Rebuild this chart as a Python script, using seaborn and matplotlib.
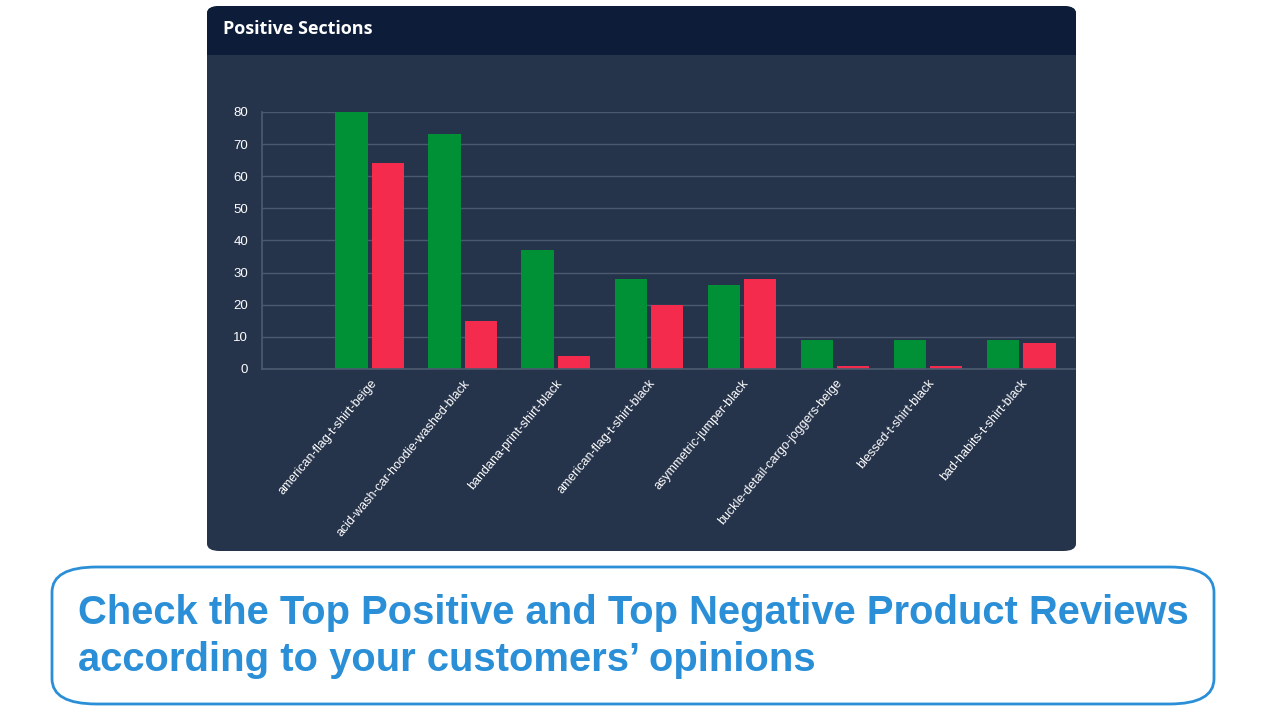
import pandas as pd
import matplotlib.pyplot as plt
from matplotlib.patches import FancyBboxPatch
import seaborn as sns

# data
products = ["american-flag-t-shirt-beige", "acid-wash-car-hoodie-washed-black",
            "bandana-print-shirt-black", "american-flag-t-shirt-black",
            "asymmetric-jumper-black", "buckle-detail-cargo-joggers-beige",
            "blessed-t-shirt-black", "bad-habits-t-shirt-black"]
positive = [80, 73, 37, 28, 26, 9, 9, 9]
negative = [64, 15, 4, 20, 28, 1, 1, 8]
y_ticks = [0, 10, 20, 30, 40, 50, 60, 70, 80]

GREEN = "#009136"
RED = "#f42b4c"
HEADER = "#0d1c38"
BODY = "#25334b"
BLUE = "#2b8fd8"


def build_frame():
    df_pos = pd.DataFrame({"product": products, "kind": "positive", "value": positive})
    df_neg = pd.DataFrame({"product": products, "kind": "negative", "value": negative})
    return pd.concat([df_pos, df_neg], ignore_index=True)


df = build_frame()

sns.set_theme(style="dark")
plt.rcParams["font.family"] = ["Liberation Sans", "DejaVu Sans"]

fig = plt.figure(figsize=(12.8, 7.2), dpi=100, facecolor="white")
W, H = 1280, 720


def px_box(x0, y0, x1, y1, **kw):
    # rectangle given in pixel coords (top-left origin)
    return FancyBboxPatch((x0 / W, 1 - y1 / H), (x1 - x0) / W, (y1 - y0) / H,
                          transform=fig.transFigure, **kw)


# dark panel with header strip
fig.patches.append(px_box(207, 6, 1076, 551, boxstyle="round,pad=0,rounding_size=0.01",
                          facecolor=BODY, edgecolor="none", zorder=-2))
fig.patches.append(px_box(207, 6, 1076, 55, boxstyle="round,pad=0,rounding_size=0.01",
                          facecolor=HEADER, edgecolor="none", zorder=-1))
fig.patches.append(px_box(207, 35, 1076, 55, boxstyle="square,pad=0",
                          facecolor=HEADER, edgecolor="none", zorder=-1))
fig.text(223 / W, 1 - 29 / H, "Positive Sections", color="white", fontsize=13,
         fontweight="bold", family=["Open Sans", "DejaVu Sans"], va="center", ha="left")

# chart axes
ax = fig.add_axes([262 / W, 1 - 369 / H, (1075 - 262) / W, (369 - 112) / H])
ax.set_zorder(2)
ax.set_facecolor(BODY)
sns.barplot(data=df, x="product", y="value", hue="kind", palette=[GREEN, RED],
            width=0.78, gap=0.1, ax=ax, saturation=1, legend=False, linewidth=0)

ax.set_ylim(0, 80)
ax.set_xlim(-1.16, 7.58)
ax.set_yticks(y_ticks)
ax.set_yticklabels([str(t) for t in y_ticks], color="white", fontsize=9.5)
ax.grid(axis="y", color="#4c5a6f", linewidth=1)
ax.grid(axis="x", visible=False)
ax.set_axisbelow(True)
ax.tick_params(axis="y", length=6, color="#4c5a6f", pad=4)
ax.tick_params(axis="x", length=0, pad=6)
ax.set_xticks(range(len(products)))
ax.set_xticklabels(products, rotation=50, ha="right", rotation_mode="anchor",
                   color="white", fontsize=9)
ax.set_xlabel("")
ax.set_ylabel("")
for side in ["top", "right"]:
    ax.spines[side].set_visible(False)
ax.spines["left"].set_color("#4c5a6f")
ax.spines["bottom"].set_color("#4c5a6f")
ax.spines["left"].set_bounds(0, 80)

# caption box
fig.patches.append(px_box(52, 567, 1214, 704, boxstyle="round,pad=0,rounding_size=0.035",
                          facecolor="white", edgecolor=BLUE, linewidth=2, zorder=0))
fig.text(78 / W, 1 - 613 / H, "Check the Top Positive and Top Negative Product Reviews",
         color=BLUE, fontsize=28.8, fontweight="bold", va="center", ha="left")
fig.text(78 / W, 1 - 660 / H, "according to your customers\u2019 opinions",
         color=BLUE, fontsize=28.8, fontweight="bold", va="center", ha="left")

fig.savefig("out.png", dpi=100, facecolor="white")
